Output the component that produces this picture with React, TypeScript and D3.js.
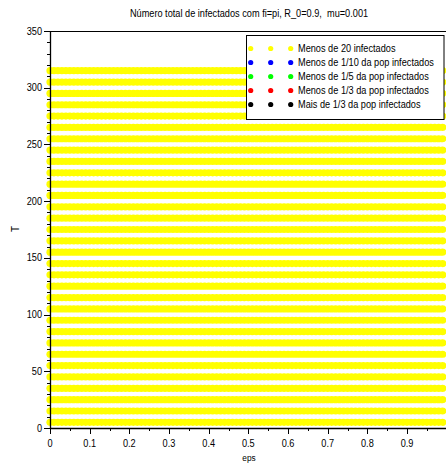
import React from "react";
import * as d3 from "d3";

// eps grid (horizontal axis)
const epsValues = [
  0, 0.01, 0.02, 0.03, 0.04, 0.05, 0.06, 0.07, 0.08, 0.09,
  0.1, 0.11, 0.12, 0.13, 0.14, 0.15, 0.16, 0.17, 0.18, 0.19,
  0.2, 0.21, 0.22, 0.23, 0.24, 0.25, 0.26, 0.27, 0.28, 0.29,
  0.3, 0.31, 0.32, 0.33, 0.34, 0.35, 0.36, 0.37, 0.38, 0.39,
  0.4, 0.41, 0.42, 0.43, 0.44, 0.45, 0.46, 0.47, 0.48, 0.49,
  0.5, 0.51, 0.52, 0.53, 0.54, 0.55, 0.56, 0.57, 0.58, 0.59,
  0.6, 0.61, 0.62, 0.63, 0.64, 0.65, 0.66, 0.67, 0.68, 0.69,
  0.7, 0.71, 0.72, 0.73, 0.74, 0.75, 0.76, 0.77, 0.78, 0.79,
  0.8, 0.81, 0.82, 0.83, 0.84, 0.85, 0.86, 0.87, 0.88, 0.89,
  0.9, 0.91, 0.92, 0.93, 0.94, 0.95, 0.96, 0.97, 0.98, 0.99,
];

// T grid (vertical axis)
const tValues = [
  5, 15, 25, 35, 45, 55, 65, 75, 85, 95, 105, 115, 125, 135, 145, 155,
  165, 175, 185, 195, 205, 215, 225, 235, 245, 255, 265, 275, 285, 295, 305, 315,
];

// Infection class of each (T, eps) cell: one string per T row, one digit per eps value
// 0 = <20, 1 = <1/10, 2 = <1/5, 3 = <1/3, 4 = >1/3
const classRows = [
  "0000000000000000000000000000000000000000000000000000000000000000000000000000000000000000000000000000",
  "0000000000000000000000000000000000000000000000000000000000000000000000000000000000000000000000000000",
  "0000000000000000000000000000000000000000000000000000000000000000000000000000000000000000000000000000",
  "0000000000000000000000000000000000000000000000000000000000000000000000000000000000000000000000000000",
  "0000000000000000000000000000000000000000000000000000000000000000000000000000000000000000000000000000",
  "0000000000000000000000000000000000000000000000000000000000000000000000000000000000000000000000000000",
  "0000000000000000000000000000000000000000000000000000000000000000000000000000000000000000000000000000",
  "0000000000000000000000000000000000000000000000000000000000000000000000000000000000000000000000000000",
  "0000000000000000000000000000000000000000000000000000000000000000000000000000000000000000000000000000",
  "0000000000000000000000000000000000000000000000000000000000000000000000000000000000000000000000000000",
  "0000000000000000000000000000000000000000000000000000000000000000000000000000000000000000000000000000",
  "0000000000000000000000000000000000000000000000000000000000000000000000000000000000000000000000000000",
  "0000000000000000000000000000000000000000000000000000000000000000000000000000000000000000000000000000",
  "0000000000000000000000000000000000000000000000000000000000000000000000000000000000000000000000000000",
  "0000000000000000000000000000000000000000000000000000000000000000000000000000000000000000000000000000",
  "0000000000000000000000000000000000000000000000000000000000000000000000000000000000000000000000000000",
  "0000000000000000000000000000000000000000000000000000000000000000000000000000000000000000000000000000",
  "0000000000000000000000000000000000000000000000000000000000000000000000000000000000000000000000000000",
  "0000000000000000000000000000000000000000000000000000000000000000000000000000000000000000000000000000",
  "0000000000000000000000000000000000000000000000000000000000000000000000000000000000000000000000000000",
  "0000000000000000000000000000000000000000000000000000000000000000000000000000000000000000000000000000",
  "0000000000000000000000000000000000000000000000000000000000000000000000000000000000000000000000000000",
  "0000000000000000000000000000000000000000000000000000000000000000000000000000000000000000000000000000",
  "0000000000000000000000000000000000000000000000000000000000000000000000000000000000000000000000000000",
  "0000000000000000000000000000000000000000000000000000000000000000000000000000000000000000000000000000",
  "0000000000000000000000000000000000000000000000000000000000000000000000000000000000000000000000000000",
  "0000000000000000000000000000000000000000000000000000000000000000000000000000000000000000000000000000",
  "0000000000000000000000000000000000000000000000000000000000000000000000000000000000000000000000000000",
  "0000000000000000000000000000000000000000000000000000000000000000000000000000000000000000000000000000",
  "0000000000000000000000000000000000000000000000000000000000000000000000000000000000000000000000000000",
  "0000000000000000000000000000000000000000000000000000000000000000000000000000000000000000000000000000",
  "0000000000000000000000000000000000000000000000000000000000000000000000000000000000000000000000000000",
];

const classLabels = [
  "Menos de 20 infectados",
  "Menos de 1/10 da pop infectados",
  "Menos de 1/5 da pop infectados",
  "Menos de 1/3 da pop infectados",
  "Mais de 1/3 da pop infectados",
];
const classColors = ["#ffff00", "#0000ff", "#00ff00", "#ff0000", "#000000"];

const xMajorTicks = [0, 0.1, 0.2, 0.3, 0.4, 0.5, 0.6, 0.7, 0.8, 0.9];
const xMinorTicks = [0.05, 0.15, 0.25, 0.35, 0.45, 0.55, 0.65, 0.75, 0.85, 0.95];
const yMajorTicks = [0, 50, 100, 150, 200, 250, 300, 350];

const W = 446;
const H = 463;
const FONT = "'Liberation Sans', Arial, sans-serif";
// narrow glyphs, like the plotting program's default font
const SQUEEZE = 0.92;

function NarrowText(props: {
  x: number;
  y: number;
  size: number;
  anchor?: "start" | "middle" | "end";
  children: React.ReactNode;
}) {
  const { x, y, size, anchor = "start", children } = props;
  return (
    <text
      transform={`translate(${x},${y}) scale(${SQUEEZE},1)`}
      textAnchor={anchor}
      fontSize={size}
      fill="#000"
      style={{ whiteSpace: "pre" }}
    >
      {children}
    </text>
  );
}

export default function App() {
  const x = d3.scaleLinear().domain([0, 1]).range([50, 446.7]);
  const y = d3.scaleLinear().domain([0, 350]).range([428, 31]);
  const yMinorTicks = d3.range(0, 351, 10).filter((v) => v % 50 !== 0);

  const cells: { eps: number; t: number; c: number }[] = [];
  tValues.forEach((t, i) => {
    epsValues.forEach((e, j) => {
      cells.push({ eps: e, t, c: +classRows[i][j] });
    });
  });

  const legendX = 246.5;
  const legendY = 35.5;
  const legendRowY = (i: number) => 48.5 + i * 14;

  return (
    <svg
      width={W}
      height={H}
      style={{ position: "absolute", left: 0, top: 0, background: "#fff" }}
      fontFamily={FONT}
    >
      <rect x={0} y={0} width={W} height={H} fill="#fff" />
      <NarrowText x={249} y={17} size={10} anchor="middle">
        {"Número total de infectados com fi=pi, R_0=0.9,  mu=0.001"}
      </NarrowText>

      {/* markers */}
      <g>
        {cells.map((d, i) => (
          <circle
            key={i}
            cx={x(d.eps)}
            cy={y(d.t)}
            r={3.6}
            fill={classColors[d.c]}
          />
        ))}
      </g>

      {/* frame */}
      <line x1={50} y1={31.5} x2={W} y2={31.5} stroke="#000" strokeWidth={1} />
      <line x1={50.5} y1={31} x2={50.5} y2={428.5} stroke="#000" strokeWidth={1.3} />
      <line x1={50} y1={428.5} x2={W} y2={428.5} stroke="#000" strokeWidth={1.3} />

      {/* y axis */}
      {yMajorTicks.map((v) => (
        <g key={"ym" + v}>
          <line x1={44} x2={50} y1={Math.round(y(v)) + 0.5} y2={Math.round(y(v)) + 0.5} stroke="#000" />
          <NarrowText x={42} y={y(v) + 3.5} size={10} anchor="end">
            {v}
          </NarrowText>
        </g>
      ))}
      {yMinorTicks.map((v) => (
        <line key={"yn" + v} x1={47} x2={50} y1={Math.round(y(v)) + 0.5} y2={Math.round(y(v)) + 0.5} stroke="#000" />
      ))}

      {/* x axis */}
      {xMajorTicks.map((v) => (
        <g key={"xm" + v}>
          <line x1={Math.round(x(v)) + 0.5} x2={Math.round(x(v)) + 0.5} y1={428} y2={434} stroke="#000" />
          <NarrowText x={x(v)} y={447} size={10} anchor="middle">
            {v}
          </NarrowText>
        </g>
      ))}
      {xMinorTicks.map((v) => (
        <line key={"xn" + v} x1={Math.round(x(v)) + 0.5} x2={Math.round(x(v)) + 0.5} y1={428} y2={431} stroke="#000" />
      ))}

      <NarrowText x={249} y={461} size={9} anchor="middle">
        eps
      </NarrowText>
      <text
        transform="translate(19,229) rotate(-90)"
        textAnchor="middle"
        fontSize={10}
        fill="#000"
      >
        T
      </text>

      {/* legend */}
      <rect x={legendX} y={legendY} width={197.5} height={84} fill="#fff" stroke="#000" strokeWidth={1} />
      {classLabels.map((label, i) => (
        <g key={label}>
          {[250.7, 270.7, 290.7].map((mx) => (
            <circle key={mx} cx={mx} cy={legendRowY(i)} r={2.6} fill={classColors[i]} />
          ))}
          <NarrowText x={298} y={legendRowY(i) + 3.5} size={10}>
            {label}
          </NarrowText>
        </g>
      ))}
    </svg>
  );
}
